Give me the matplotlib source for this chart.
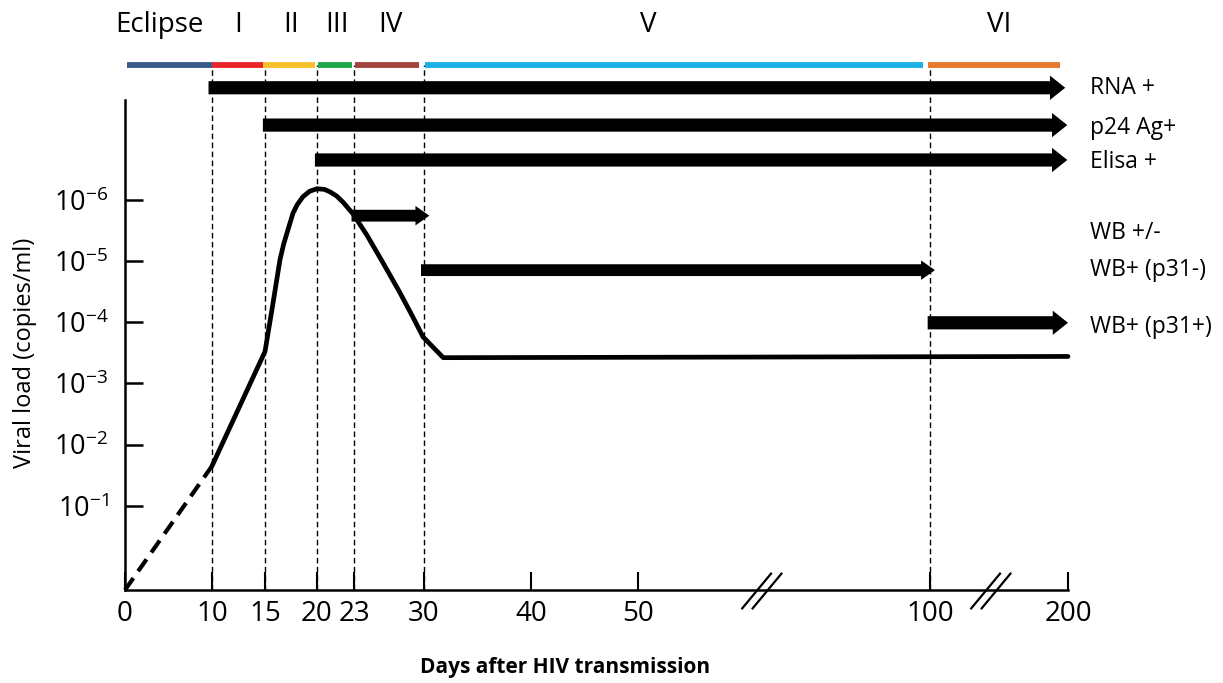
import numpy as np
import matplotlib
matplotlib.use("Agg")
import matplotlib.pyplot as plt
from matplotlib.path import Path

# ---------------- data ----------------
# x axis (broken, schematic): tick days and their relative screen positions
tick_days = [0, 10, 15, 20, 23, 30, 40, 50, 100, 200]
tick_pos = [0, 87, 140, 192, 229, 299, 406, 513, 805, 943]
tick_labels = ["0", "10", "15", "20", "23", "30", "40", "50", "100", "200"]

# y axis: levels and labels
y_levels = [1, 2, 3, 4, 5, 6]
y_labels = [r"$\mathregular{10^{-%d}}$" % k for k in y_levels]

# viral load curve (day, level)
dash_days = [0, 10]
dash_level = [-0.376, 1.65]
curve_days = [10, 15, 15.77, 16.1, 16.44, 16.8, 17.12, 17.69, 18.1, 18.65, 19.3,
              20.0, 20.6, 21.05, 21.6, 22.11, 22.92, 24.3, 25.9, 27.6, 28.9, 29.9, 31.8, 200]
curve_level = [1.65, 3.52, 4.31, 4.66, 5.02, 5.28, 5.46, 5.78, 5.92, 6.05, 6.14,
               6.18, 6.17, 6.13, 6.06, 5.96, 5.77, 5.42, 4.97, 4.48, 4.08, 3.76, 3.42, 3.44]

# phases
phase_names = ["Eclipse", "I", "II", "III", "IV", "V", "VI"]
phase_start = [0.2, 10, 14.8, 20.1, 23.1, 30.1, 99.7]
phase_end = [10, 14.8, 19.8, 22.8, 29.5, 98.8, 194]
phase_label_day = [4.0, 12.5, 17.5, 21.6, 26.6, 51.7, 150]
phase_colors = ["#3b5a8c", "#e8262a", "#f5c02a", "#1fa64a", "#a0443c", "#1ab0e6", "#e8782a"]

# boundaries (dashed vertical lines)
boundary_days = [10, 15, 20, 23, 30, 100]

# test positivity arrows
arrow_labels = ["RNA +", "p24 Ag+", "Elisa +", "WB +/-", "WB+ (p31-)", "WB+ (p31+)"]
arrow_start = [9.6, 14.8, 19.8, 22.8, 29.7, 99.6]
arrow_end = [198, 199.5, 199.5, 30.5, 103.6, 200]
arrow_level = [7.83, 7.22, 6.65, 5.74, 4.85, 3.99]
label_level = [7.83, 7.17, 6.62, 5.46, 4.85, 3.92]
arrow_big = [True, True, True, False, False, True]

# axis-break marks
break_days = [72, 147]

# ---------------- figure ----------------
W, H = 1223, 683
fig = plt.figure(figsize=(W / 100, H / 100), dpi=100)
plt.rcParams["font.family"] = ["Open Sans", "DejaVu Sans"]

x0, x1, yb, yt = 125, 1068, 590, 100
ax = fig.add_axes([x0 / W, (H - yb) / H, (x1 - x0) / W, (yb - yt) / H])

fwd = lambda d: np.interp(d, tick_days, tick_pos)
inv = lambda p: np.interp(p, tick_pos, tick_days)
ax.set_xscale("function", functions=(fwd, inv))
ax.set_xlim(0, 200)
ax.set_ylim(-0.376, 7.63)

for s in ["top", "right"]:
    ax.spines[s].set_visible(False)
for s in ["left", "bottom"]:
    ax.spines[s].set_linewidth(1.8)

ax.set_xticks(tick_days)
ax.set_xticklabels(tick_labels, fontsize=20)
ax.set_yticks(y_levels)
ax.set_yticklabels(y_labels, fontsize=19.5)
ax.tick_params(axis="x", direction="in", length=13, width=1.5, pad=7)
ax.tick_params(axis="y", direction="in", length=13, width=1.8, pad=12)
ax.xaxis.set_minor_locator(matplotlib.ticker.NullLocator())

# dashed boundaries
for d in boundary_days:
    ax.plot([d, d], [-0.376, 8.2], color="black", lw=1.0, ls=(0, (4, 2.5)),
            clip_on=False, zorder=1)

# phase bars and labels
for name, s, e, c, ld in zip(phase_names, phase_start, phase_end, phase_colors, phase_label_day):
    ax.plot([s, e], [8.2, 8.2], color=c, lw=4.2, solid_capstyle="butt", clip_on=False, zorder=3)
    ax.text(ld, 8.86, name, ha="center", va="center", fontsize=20, clip_on=False)

# viral load curve
ax.plot(dash_days, dash_level, color="black", lw=3.0, ls=(0, (3.5, 2)), clip_on=False, zorder=4)
ax.plot(curve_days, curve_level, color="black", lw=3.4, solid_joinstyle="round",
        solid_capstyle="round", clip_on=False, zorder=4)

# arrows
ytr = ax.get_yaxis_transform()
for lab, s, e, lv, tl, big in zip(arrow_labels, arrow_start, arrow_end, arrow_level, label_level, arrow_big):
    if big:
        style = "simple,head_length=1.1,head_width=1.75,tail_width=0.95"
    else:
        style = "simple,head_length=1.0,head_width=1.4,tail_width=0.85"
    ax.annotate("", xy=(e, lv), xytext=(s, lv),
                arrowprops=dict(arrowstyle=style, mutation_scale=10, fc="black",
                                ec="none", lw=0, shrinkA=0, shrinkB=0),
                annotation_clip=False, zorder=5)
    ax.text(1.023, tl, lab, transform=ytr, ha="left", va="center", fontsize=16.5, clip_on=False)

# break marks
brk = Path([(-24, -18), (5, 17), (-14, -18), (15, 17)],
           [Path.MOVETO, Path.LINETO, Path.MOVETO, Path.LINETO])
ax.plot(break_days, [-0.376] * len(break_days), ls="none", marker=brk, markersize=36,
        mec="black", mfc="none", mew=1.6, clip_on=False, zorder=6)

# axis labels
fig.text(565 / W, 1 - 668 / H, "Days after HIV transmission", ha="center", va="center",
         fontsize=15, fontweight="bold")
fig.text(25 / W, 1 - 353 / H, "Viral load (copies/ml)", ha="center", va="center",
         rotation=90, fontsize=17)

fig.savefig("out.png", dpi=100)
